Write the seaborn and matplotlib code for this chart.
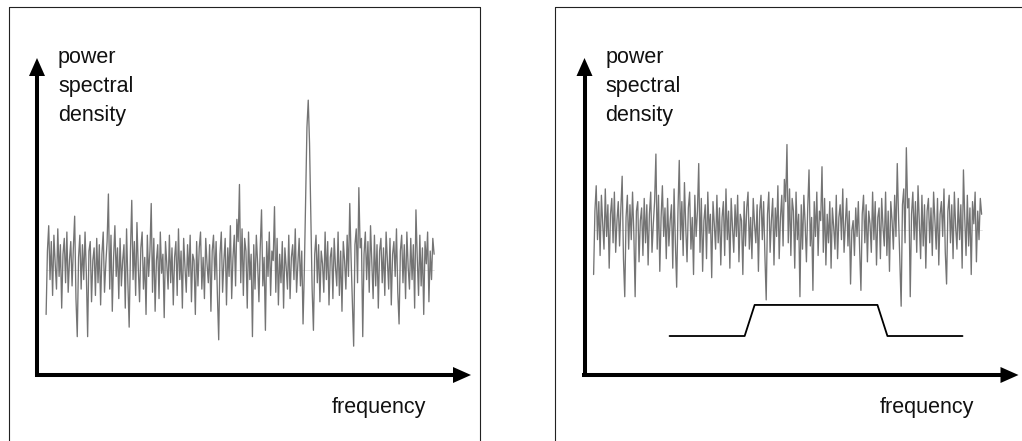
import numpy as np
import pandas as pd
import matplotlib
matplotlib.use("Agg")
import matplotlib.pyplot as plt
from matplotlib.lines import Line2D
from matplotlib.patches import Polygon
import seaborn as sns

# ---------------------------------------------------------------- data
# frequency span covered by the measured spectrum (axis units 0..100)
freq_start, freq_stop = 2.1, 91.5

# measured noise spectrum, deviation from the noise floor (one value per bin)
noise = [
    -14, 6, 14, -3, 9, -8, 11, 2, -6, 13, -2, 8, -12, 5, 10, -4, 12, -7, 3, 9,
    -5, 7, 17, -9, -21, 4, 11, -6, 8, -3, 12, -1, -21, 6, 9, -10, 3, 7, -8, 10,
    -4, 8, -11, 5, 12, -7, 2, 9, 24, -6, 11, -13, 4, 14, -2, 7, -9, 10, -5, 3,
    8, -12, 13, -4, -18, 6, 22, -3, 9, -8, 15, 1, -10, 7, 12, -6, 4, -14, 11, -2,
    6, 21, -7, 10, -13, 3, 8, -9, 12, -1, 5, -15, 9, 2, -6, 11, -4, 7, -11, 4,
    9, -8, 13, -3, 6, -12, 10, 1, -7, 8, -2, 11, -10, 5, 3, -14, 9, -5, 7, 12,
    -6, 4, -9, 10, 2, -4, 8, -13, 6, 11, -3, 9, -8, -22, 5, 12, -7, 3, 10, -11,
    7, -2, 14, -9, 4, 11, -5, 16, 9, 27, -4, 13, -8, 10, 6, -12, 12, -3, 5, -21,
    8, -6, 11, 2, -10, 7, 19, -5, 4, -19, 9, -2, 12, -8, 6, 3, 20, -7, 10, -11,
    5, -4, 9, -12, 7, 1, -6, 11, -9, 4, 8, -3, 13, -7, 2, 10, -5, 6, -17, 0,
    3, -8, 7, -2, 9, -6, -19, 5, 11, -4, 8, -10, 6, 2, -7, 12, -3, 9, -11, 4,
    7, -9, 10, 1, -5, 12, -8, 6, -13, 9, 3, -6, 11, -2, 21, 4, -10, -24, 8, 13,
    -4, 26, 7, 10, -21, 5, 12, -3, 9, -7, 14, 2, -9, 11, -5, 8, -12, 6, 10, -4,
    7, -8, 12, 3, -6, 10, -11, 5, 9, -2, 13, -7, -17, 6, 11, -4, 8, -9, 12, 1,
    -6, 10, -3, 8, -12, 19, 4, -8, 11, -5, 7, -14, 9, 2, 12, -10, 6, -3, 10, 5,
]

# narrow-band tone present in the first spectrum (bins 199..205)
tone_first_bin = 199
tone = [0, 22, 45, 53.6, 40, 16, -6]

# noise floor of each spectrum
floor_tone = 33.1
floor_band = 45.7

# band-pass filter response drawn under the second spectrum
filter_freq = [19.6, 36.9, 39.2, 67.5, 69.8, 87.1]
filter_gain = [12.3, 12.3, 22.1, 22.1, 12.3, 12.3]

ylabel_lines = ["power", "spectral", "density"]
xlabel = "frequency"

# ---------------------------------------------------------------- frames
freq = np.linspace(freq_start, freq_stop, len(noise))
dev_tone = np.array(noise, dtype=float)
dev_tone[tone_first_bin:tone_first_bin + len(tone)] = tone
spec_tone = pd.DataFrame({"f": freq, "p": floor_tone + dev_tone})
spec_band = pd.DataFrame({"f": freq, "p": floor_band + np.array(noise, dtype=float)})
filt = pd.DataFrame({"f": filter_freq, "g": filter_gain})

# ---------------------------------------------------------------- figure
sns.set_style("white")
plt.rcParams["font.family"] = ["Liberation Sans", "DejaVu Sans"]

W, H = 1022, 441
fig = plt.figure(figsize=(W / 100, H / 100), dpi=100)


def fx(px):
    return px / W


def fy(py):
    return 1 - py / H


AX_W, AX_H = 434, 317          # axes size in pixels
ORIGIN_Y = 375
LINE_COL = "#747474"
AXIS_LW = 2.9


def frame(box_left, box_right, top=7):
    # thin enclosing box (open at the figure edge)
    kw = dict(transform=fig.transFigure, color="#222222", lw=0.8)
    fig.add_artist(Line2D([fx(box_left), fx(box_left)], [fy(top), fy(H + 5)], **kw))
    fig.add_artist(Line2D([fx(box_left), fx(min(box_right, W + 5))], [fy(top), fy(top)], **kw))
    if box_right <= W:
        fig.add_artist(Line2D([fx(box_right), fx(box_right)], [fy(top), fy(H + 5)], **kw))


def panel(origin_x):
    ax = fig.add_axes([fx(origin_x), fy(ORIGIN_Y), AX_W / W, AX_H / H])
    ax.set_xlim(0, 100)
    ax.set_ylim(0, 100)
    ax.axis("off")

    hl_y, hw_y = 18 / AX_H, 8 / AX_W     # y-arrow head length / half width
    hl_x, hw_x = 18 / AX_W, 8 / AX_H     # x-arrow head length / half width
    # shafts
    ax.plot([0, 0], [-2.2 / AX_H, 1 - hl_y + 0.005], transform=ax.transAxes,
            color="black", lw=AXIS_LW, solid_capstyle="butt", clip_on=False)
    ax.plot([-2.2 / AX_W, 1 - hl_x + 0.005], [0, 0], transform=ax.transAxes,
            color="black", lw=AXIS_LW, solid_capstyle="butt", clip_on=False)
    # heads
    ax.add_patch(Polygon([(0, 1), (-hw_y, 1 - hl_y), (hw_y, 1 - hl_y)], closed=True,
                         transform=ax.transAxes, color="black", lw=0, clip_on=False))
    ax.add_patch(Polygon([(1, 0), (1 - hl_x, -hw_x), (1 - hl_x, hw_x)], closed=True,
                         transform=ax.transAxes, color="black", lw=0, clip_on=False))

    # labels
    for txt, base in zip(ylabel_lines, [63.5, 92, 120.5]):
        fig.text(fx(origin_x + 21), fy(base), txt, fontsize=15.5, va="baseline",
                 ha="left", color="#111111")
    fig.text(fx(origin_x + 295), fy(413.5), xlabel, fontsize=15.5, va="baseline",
             ha="left", color="#111111")
    return ax


# left: noise with a narrow-band tone
frame(9, 480)
ax1 = panel(37)
ax1.plot([freq_start, freq_stop], [floor_tone, floor_tone], color="#dddddd", lw=0.6, zorder=1)
sns.lineplot(data=spec_tone, x="f", y="p", ax=ax1, color=LINE_COL, lw=0.95,
             estimator=None, sort=False, zorder=2)

# right: noise with a band-pass filter response
frame(555.3, W + 10)
ax2 = panel(584.5)
ax2.plot([freq_start, freq_stop], [floor_band, floor_band], color="#dddddd", lw=0.6, zorder=1)
sns.lineplot(data=spec_band, x="f", y="p", ax=ax2, color=LINE_COL, lw=0.95,
             estimator=None, sort=False, zorder=2)
sns.lineplot(data=filt, x="f", y="g", ax=ax2, color="black", lw=1.3,
             estimator=None, sort=False, zorder=3)

for ax in (ax1, ax2):
    ax.axis("off")

fig.savefig("out.png", dpi=100)
